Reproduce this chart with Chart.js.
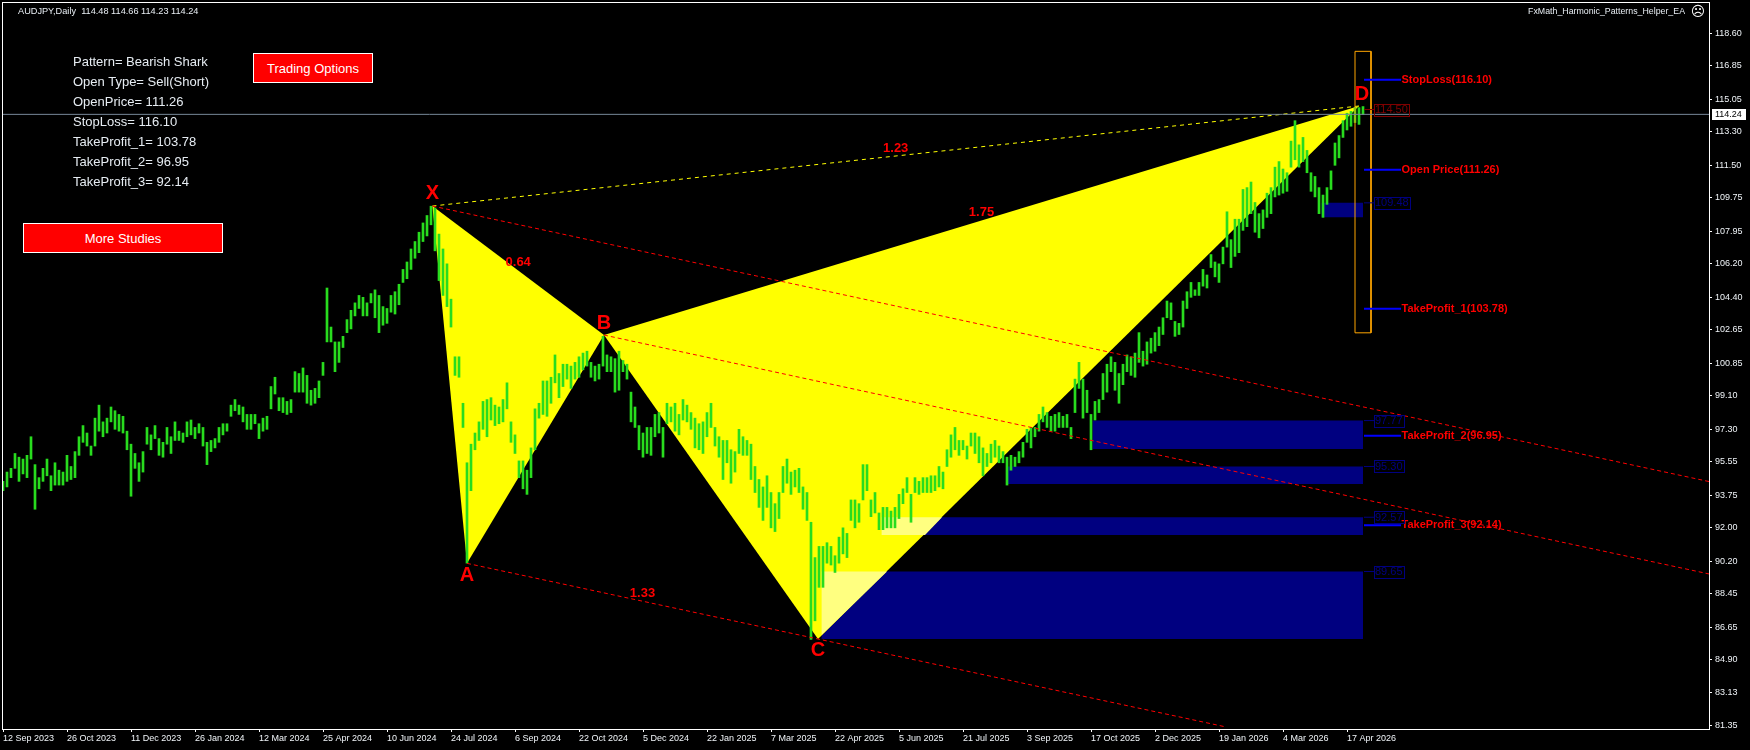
<!DOCTYPE html>
<html>
<head>
<meta charset="utf-8">
<title>AUDJPY Daily</title>
<script src="https://cdn.jsdelivr.net/npm/chart.js@4/dist/chart.umd.min.js"></script>
<style>
    html, body { margin: 0; padding: 0; background: #000; width: 1750px; height: 750px; overflow: hidden; }
    #wrap { position: relative; width: 1750px; height: 750px; }
    canvas { position: absolute; left: 0; top: 0; }
    .info { position: absolute; left: 73px; color: #e6ecf2; font: 13px "Liberation Sans", Arial, sans-serif; line-height: 20px; white-space: nowrap; }
    .btn { position: absolute; box-sizing: border-box; background: #f00; border: 1px solid #fff; color: #fff; font: 13px "Liberation Sans", Arial, sans-serif; display: flex; align-items: center; justify-content: center; }
</style>
</head>
<body>
<div id="wrap">
    <canvas id="chart" width="1750" height="750"></canvas>
    <div class="btn" style="left:253px;top:53px;width:120px;height:30px;">Trading Options</div>
    <div class="btn" style="left:23px;top:223px;width:200px;height:30px;">More Studies</div>
</div>
<script>
const barHighs = [
    94.5,95.0,95.2,96.0,95.8,95.7,95.9,96.9,95.4,94.7,95.2,95.7,94.8,95.5,95.1,95.0,95.9,95.3,96.1,96.9,
    97.5,97.1,96.4,97.9,98.6,97.7,97.9,98.5,98.3,98.1,98.0,97.2,96.5,96.0,95.5,96.1,97.4,97.0,97.5,96.8,
    96.6,97.4,96.9,97.7,97.2,97.1,97.7,97.8,97.4,97.6,97.4,96.6,96.7,96.8,97.4,97.6,97.6,98.6,98.9,98.6,
    98.5,98.1,98.1,98.1,97.6,97.9,98.0,99.6,100.1,99.0,99.0,98.8,98.9,100.4,100.3,100.6,100.2,99.4,99.5,99.9,
    100.9,104.9,102.8,102.0,102.0,102.3,103.2,103.7,104.1,104.5,104.4,104.1,104.6,104.8,104.5,103.9,103.8,104.5,104.7,105.1,
    105.9,106.3,107.0,107.4,107.9,108.4,108.8,109.3,109.2,107.8,107.0,106.2,104.3,101.2,101.2,98.7,95.5,96.5,97.1,97.7,
    98.8,98.9,99.0,98.6,98.5,98.9,99.8,97.7,97.0,95.6,95.6,95.1,96.3,98.4,98.7,99.9,99.9,100.1,101.3,100.3,
    100.8,100.8,100.7,100.9,101.2,101.4,101.5,100.9,100.7,100.8,102.3,101.3,101.2,101.1,101.5,101.0,100.8,99.3,98.5,97.5,
    97.1,97.4,97.4,98.1,98.2,97.4,98.7,98.5,98.7,98.1,98.9,98.6,98.2,97.9,97.6,97.7,98.2,98.7,97.4,96.9,
    96.7,96.7,96.2,96.1,97.3,96.9,96.7,96.5,95.3,94.6,94.2,94.8,93.9,93.3,93.9,95.3,95.7,95.0,95.1,95.2,
    94.2,93.9,92.3,90.4,91.0,91.0,91.2,91.0,90.5,91.5,92.0,91.7,93.5,93.5,93.3,95.4,95.4,93.5,93.9,92.8,
    93.1,93.1,92.9,93.1,93.8,94.1,94.7,93.8,94.7,94.5,94.7,94.7,94.8,94.8,95.3,95.0,96.2,97.0,97.4,96.7,
    96.7,96.4,97.1,97.1,96.9,96.3,96.0,96.5,96.7,96.4,96.1,95.8,95.9,95.8,96.1,96.6,97.3,97.4,97.4,98.1,
    98.5,98.2,98.0,98.1,98.2,98.0,98.1,97.4,100.0,100.9,100.0,99.4,98.1,98.8,98.9,100.3,100.8,101.2,100.9,100.3,
    100.8,101.3,101.2,101.4,102.5,101.5,102.0,102.2,102.5,102.8,103.3,104.2,104.1,103.1,103.0,104.2,104.7,105.2,104.8,105.2,
    105.9,105.6,106.7,106.3,106.2,107.1,109.0,107.5,108.6,108.6,110.2,110.3,110.6,109.5,108.9,109.1,110.0,110.3,111.4,111.7,
    111.3,111.1,112.8,113.9,112.6,113.0,112.3,111.1,110.9,110.3,109.9,110.3,111.2,112.7,113.1,113.9,114.3,114.4,114.6,114.6,
    114.66
];
const barLows = [
    94.0,94.2,94.7,95.2,94.5,94.9,94.7,95.7,93.0,94.1,94.5,94.8,94.0,94.3,94.3,94.3,94.5,94.6,94.7,95.9,
    96.6,96.4,95.9,96.4,97.2,96.9,97.1,97.7,97.3,97.2,97.1,96.2,93.7,95.2,94.5,95.0,96.5,96.2,96.8,95.9,
    95.8,96.5,96.0,96.7,96.7,96.6,96.9,97.0,96.8,97.1,96.4,95.4,96.1,96.3,96.6,97.0,97.2,98.0,98.3,98.1,
    97.7,97.3,97.3,97.6,96.8,97.2,97.3,98.4,99.2,98.3,98.2,98.1,98.2,99.3,99.3,99.3,98.7,98.6,98.7,99.0,
    100.2,102.0,102.0,100.4,100.9,101.7,102.5,102.7,103.4,103.8,103.4,103.4,104.1,103.3,102.5,102.9,103.0,103.6,103.5,104.0,
    105.2,105.4,105.9,106.5,106.8,107.4,107.7,108.3,106.9,105.3,104.5,103.9,102.8,100.2,100.1,97.4,90.1,94.0,96.2,96.7,
    97.3,96.9,97.8,97.5,97.6,97.7,98.4,96.6,96.0,94.7,94.1,93.8,94.7,96.2,97.9,98.1,98.0,98.7,99.8,99.0,
    99.6,100.0,99.5,100.0,100.1,100.5,100.7,100.1,99.9,100.0,100.7,100.4,100.4,99.3,99.4,100.4,100.0,97.7,97.4,96.2,
    95.8,96.0,95.9,96.9,97.1,95.8,97.6,97.7,97.2,97.0,97.8,97.7,97.3,96.3,96.2,96.0,96.9,97.4,96.4,95.8,
    94.6,95.5,94.4,95.0,96.0,95.9,95.9,94.6,93.9,93.1,92.4,93.1,92.0,91.8,92.5,93.9,94.4,93.8,94.2,93.9,
    93.0,92.4,86.0,87.0,88.8,88.8,90.1,90.0,89.6,90.1,90.6,90.4,92.4,92.0,92.3,93.5,94.0,92.6,92.8,91.9,
    91.9,92.0,92.0,92.0,92.5,93.3,93.9,92.3,93.9,93.8,93.9,93.9,93.9,94.0,94.2,94.1,95.3,95.8,96.2,95.9,
    96.2,95.7,96.4,96.0,95.5,94.8,95.3,95.5,95.8,95.5,95.5,94.3,95.1,95.3,95.5,95.8,96.6,96.3,96.9,97.2,
    97.7,97.4,97.2,97.2,97.4,97.4,97.4,96.8,98.2,99.5,97.9,98.2,96.2,97.8,98.2,98.9,99.3,100.4,99.4,98.7,
    99.7,100.4,100.2,100.1,100.9,100.7,100.8,101.4,101.5,101.8,102.4,103.3,103.2,102.3,102.4,102.8,103.8,104.4,104.5,104.5,
    105.0,104.9,106.0,105.5,105.2,106.2,107.1,106.0,106.6,106.8,108.0,108.2,108.9,107.9,107.6,108.1,108.7,108.9,109.8,109.9,
    110.0,110.1,111.4,111.8,111.4,111.7,111.1,110.1,109.8,108.9,108.7,109.4,110.2,111.5,111.9,113.0,113.4,113.6,113.8,113.7,
    114.23
];

const dateLabels = ['12 Sep 2023','26 Oct 2023','11 Dec 2023','26 Jan 2024','12 Mar 2024','25 Apr 2024','10 Jun 2024','24 Jul 2024','6 Sep 2024','22 Oct 2024','5 Dec 2024','22 Jan 2025','7 Mar 2025','22 Apr 2025','5 Jun 2025','21 Jul 2025','3 Sep 2025','17 Oct 2025','2 Dec 2025','19 Jan 2026','4 Mar 2026','17 Apr 2026'];
const priceTicks = [118.60,116.85,115.05,113.30,111.50,109.75,107.95,106.20,104.40,102.65,100.85,99.10,97.30,95.55,93.75,92.00,90.20,88.45,86.65,84.90,83.13,81.35];

// X A B C D, x is a bar number
const patternNames = ['X','A','B','C','D'];
const patternBars = [214.7,232,300.5,407.5,678];
const patternPrices = [109.31,90.09,102.37,86.02,114.69];

// zones below the pattern
const zoneStartBars = [544.8,502.5,439.3,409.3,659.3];
const zoneEndBar = 680;
const zoneTops = [97.77,95.30,92.57,89.65,109.48];
const zoneBottoms = [96.24,94.36,91.61,86.02,108.70];

// where a zone lies on the yellow wedge the colour goes pale
const paleBars = [[439.3,469.5,461,439.3],[409.3,442,409.3]];
const palePrices = [[92.57,92.57,91.61,91.61],[89.65,89.65,86.24]];

const targetNames = ['StopLoss(116.10)','Open Price(111.26)','TakeProfit_1(103.78)','TakeProfit_2(96.95)','TakeProfit_3(92.14)'];
const targetPrices = [116.10,111.26,103.78,96.95,92.14];

const ratioLabels = ['0.64','1.33','1.75','1.23'];
const ratioFrom = [0,1,2,0];
const ratioTo = [2,3,4,4];

const channelEndBars = [853,853,611.5];
const channelEndPrices = [94.49,89.52,81.29];
const channelStart = [0,2,1];

const panelLines = ['Pattern= Bearish Shark','Open Type= Sell(Short)','OpenPrice= 111.26','StopLoss= 116.10','TakeProfit_1= 103.78','TakeProfit_2= 96.95','TakeProfit_3= 92.14'];
const lastPrice = 114.24;
const headerText = 'AUDJPY,Daily  114.48 114.66 114.23 114.24';
const expertName = 'FxMath_Harmonic_Patterns_Helper_EA';

const boxBars = [676,684];
const boxPrices = [117.63,102.49];
const stubBars = [680.5,699];
const tagBars = [680.5,685.5];
const redTag = 114.50;

panelLines.forEach((line, i) => {
    const div = document.createElement('div');
    div.className = 'info';
    div.style.top = (52 + i * 20) + 'px';
    div.textContent = line;
    document.getElementById('wrap').appendChild(div);
});

function polygon(xs, ys) {
    return xs.map((x, i) => ({ x: x, y: ys[i] }));
}

function shapeDataset(points, color, order) {
    return { type: 'line', data: points, borderWidth: 0, borderColor: color, backgroundColor: color, fill: 'shape', pointRadius: 0, tension: 0, order: order };
}

function lineDataset(points, color, width, dash, order) {
    return { type: 'line', data: points, borderWidth: width, borderColor: color, borderDash: dash, fill: false, pointRadius: 0, tension: 0, order: order };
}

const datasets = [];

zoneTops.forEach((top, i) => {
    const pts = polygon([zoneStartBars[i], zoneEndBar, zoneEndBar, zoneStartBars[i]], [top, top, zoneBottoms[i], zoneBottoms[i]]);
    datasets.push(shapeDataset(pts, '#000080', 9));
});

// the two wedges X-A-B and B-C-D
datasets.push(shapeDataset(polygon(patternBars.slice(0, 3), patternPrices.slice(0, 3)), '#ffff00', 8));
datasets.push(shapeDataset(polygon(patternBars.slice(2, 5), patternPrices.slice(2, 5)), '#ffff00', 8));

paleBars.forEach((bars, i) => {
    datasets.push(shapeDataset(polygon(bars, palePrices[i]), '#ffff80', 7));
});

datasets.push({
    type: 'bar',
    data: barHighs.map((high, i) => ({ x: i * 2, y: [barLows[i], high] })),
    backgroundColor: '#28dc1e',
    barThickness: 2,
    grouped: false,
    order: 5
});

channelEndBars.forEach((bar, i) => {
    const start = channelStart[i];
    const pts = polygon([patternBars[start], bar], [patternPrices[start], channelEndPrices[i]]);
    datasets.push(lineDataset(pts, '#ff0000', 1, [4, 3], 4));
});
datasets.push(lineDataset(polygon([patternBars[0], patternBars[4]], [patternPrices[0], patternPrices[4]]), '#ffff00', 1, [4, 4], 4));

datasets.push(lineDataset(polygon([0, 853], [lastPrice, lastPrice]), '#778899', 1, [], 3));
datasets.push(lineDataset(polygon([boxBars[0], boxBars[1], boxBars[1], boxBars[0], boxBars[0]], [boxPrices[0], boxPrices[0], boxPrices[1], boxPrices[1], boxPrices[0]]), '#ffa500', 1, [], 3));

targetPrices.forEach(price => {
    datasets.push(lineDataset(polygon(stubBars, [price, price]), '#0000ff', 2, [], 2));
});
zoneTops.forEach(price => {
    datasets.push(lineDataset(polygon(tagBars, [price, price]), '#000080', 1, [], 2));
});
datasets.push(lineDataset(polygon(tagBars, [redTag, redTag]), '#800000', 1, [], 2));

function drawText(ctx, text, x, y, font, color, align) {
    ctx.font = font;
    ctx.fillStyle = color;
    ctx.textAlign = align || 'left';
    ctx.textBaseline = 'middle';
    ctx.fillText(text, x, y);
}

function drawTag(ctx, xScale, yScale, price, color) {
    const text = price.toFixed(2);
    const left = xScale.getPixelForValue(tagBars[1]);
    const y = yScale.getPixelForValue(price);
    ctx.font = '11px "Liberation Sans", Arial, sans-serif';
    const width = ctx.measureText(text).width + 2;
    ctx.strokeStyle = color;
    ctx.lineWidth = 1;
    ctx.strokeRect(Math.round(left) + 0.5, Math.round(y) - 5.5, Math.round(width), 12);
    drawText(ctx, text, left + 1, y + 0.5, ctx.font, color);
}

const overlayPlugin = {
    id: 'overlay',
    afterDraw(chart) {
        const ctx = chart.ctx;
        const area = chart.chartArea;
        const xScale = chart.scales.x;
        const yScale = chart.scales.y;
        const sans = '"Liberation Sans", Arial, sans-serif';
        ctx.save();

        ctx.strokeStyle = '#ffffff';
        ctx.lineWidth = 1;
        ctx.strokeRect(area.left - 0.5, area.top - 0.5, area.right - area.left + 1, area.bottom - area.top + 1);

        drawText(ctx, headerText, 18, 11, '9.2px ' + sans, '#e8eef4');
        drawText(ctx, expertName, 1685, 12, '8.8px ' + sans, '#e8eef4', 'right');
        drawText(ctx, '\u2639', 1698, 12, '14px "DejaVu Sans"', '#ffffff', 'center');

        // pattern letters sit just off their corner
        const letterShift = [-13, 12, -12, 11, -12];
        patternNames.forEach((name, i) => {
            const x = xScale.getPixelForValue(patternBars[i]) + (name === 'D' ? 3 : 0);
            const y = yScale.getPixelForValue(patternPrices[i]) + letterShift[i];
            drawText(ctx, name, x, y, 'bold 20px ' + sans, '#ff0000', 'center');
        });

        ratioLabels.forEach((label, i) => {
            const a = ratioFrom[i];
            const b = ratioTo[i];
            const x = xScale.getPixelForValue((patternBars[a] + patternBars[b]) / 2);
            const y = yScale.getPixelForValue((patternPrices[a] + patternPrices[b]) / 2) - 8;
            drawText(ctx, label, x, y, 'bold 13px ' + sans, '#ff0000', 'center');
        });

        targetNames.forEach((name, i) => {
            const x = xScale.getPixelForValue(stubBars[1]);
            drawText(ctx, name, x + 0.5, yScale.getPixelForValue(targetPrices[i]), 'bold 11px ' + sans, '#ff0000');
        });

        zoneTops.forEach(price => drawTag(ctx, xScale, yScale, price, '#000080'));
        drawTag(ctx, xScale, yScale, redTag, '#800000');

        // last price tag on the axis
        const lastY = yScale.getPixelForValue(lastPrice);
        ctx.fillStyle = '#ffffff';
        ctx.fillRect(area.right + 3, Math.round(lastY) - 5, 34, 11);
        drawText(ctx, lastPrice.toFixed(2), area.right + 6, lastY + 0.5, '9px ' + sans, '#000000');

        ctx.restore();
    }
};

const tickFont = { family: '"Liberation Sans", Arial, sans-serif', size: 9 };

new Chart(document.getElementById('chart').getContext('2d'), {
    data: { datasets: datasets },
    plugins: [overlayPlugin],
    options: {
        responsive: false,
        animation: false,
        events: [],
        layout: { padding: { left: 3, top: 3, right: 0, bottom: 0 } },
        plugins: { legend: { display: false }, tooltip: { enabled: false }, title: { display: false } },
        scales: {
            x: {
                type: 'linear',
                offset: false,
                min: 0,
                max: 853,
                grid: { offset: false, drawOnChartArea: false, drawTicks: true, tickLength: 3, color: '#ffffff' },
                border: { color: '#ffffff' },
                afterBuildTicks(scale) {
                    scale.ticks = dateLabels.map((label, i) => ({ value: i * 32 }));
                },
                afterFit(scale) {
                    scale.height = 21;
                    scale.paddingLeft = 0;
                    scale.paddingRight = 0;
                },
                ticks: {
                    autoSkip: false,
                    maxRotation: 0,
                    align: 'start',
                    padding: 1,
                    color: '#f0f4f8',
                    font: tickFont,
                    callback(value) {
                        return dateLabels[Math.round(value / 32)];
                    }
                }
            },
            y: {
                type: 'linear',
                position: 'right',
                min: 81.18,
                max: 120.23,
                grid: { drawOnChartArea: false, drawTicks: true, tickLength: 3, color: '#ffffff' },
                border: { color: '#ffffff' },
                afterBuildTicks(scale) {
                    scale.ticks = priceTicks.map(value => ({ value: value }));
                },
                afterFit(scale) {
                    scale.width = 41;
                    scale.paddingTop = 0;
                    scale.paddingBottom = 0;
                },
                ticks: {
                    autoSkip: false,
                    padding: 3,
                    color: '#f0f4f8',
                    font: tickFont,
                    callback(value) {
                        return value.toFixed(2);
                    }
                }
            }
        }
    }
});
</script>
</body>
</html>
